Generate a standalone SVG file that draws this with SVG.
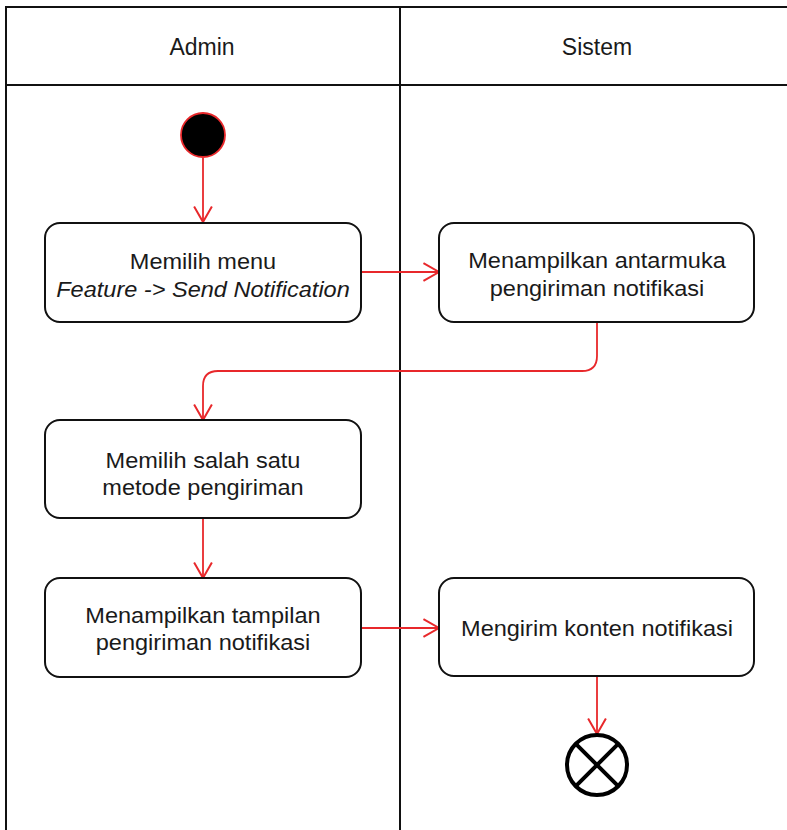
<svg xmlns="http://www.w3.org/2000/svg" width="787" height="830" viewBox="0 0 787 830">
  <style>
    .lane { stroke: #111; stroke-width: 2; fill: none; }
    .act { fill: #fff; stroke: #111; stroke-width: 2; }
    .lbl { font-family: "Liberation Sans", Arial, sans-serif; font-size: 22px; fill: #1a1a1a; text-anchor: middle; }
    .hdr { font-family: "Liberation Sans", Arial, sans-serif; font-size: 23px; fill: #1a1a1a; text-anchor: middle; }
    .flow { stroke: #e8282b; stroke-width: 1.8; fill: none; marker-end: url(#open); }
  </style>
  <defs>
    <marker id="open" markerUnits="userSpaceOnUse" markerWidth="20" markerHeight="20" viewBox="0 0 16 18" refX="15" refY="9" orient="auto">
      <path d="M1,1 L15,9 L1,17" fill="none" stroke="#e8282b" stroke-width="1.8"/>
    </marker>
  </defs>

  <!-- swimlanes -->
  <g id="lanes">
    <path class="lane" d="M6,830 V7 H787 M6,85 H787 M400,7 V830"/>
    <text class="hdr" x="202" y="55">Admin</text>
    <text class="hdr" x="597" y="55">Sistem</text>
  </g>

  <!-- connectors -->
  <g id="connectors">
    <path class="flow" d="M203,158 V222"/>
    <path class="flow" d="M361,272 H439"/>
    <path class="flow" d="M597,322 V356 Q597,371 582,371 H218 Q203,371 203,386 V420"/>
    <path class="flow" d="M203,518 V578"/>
    <path class="flow" d="M361,628 H439"/>
    <path class="flow" d="M597,677 V734"/>
  </g>

  <g id="start">
    <circle cx="203" cy="135" r="22" fill="#000" stroke="#e8282b" stroke-width="1.8"/>
  </g>

  <g id="pilih-menu">
    <rect class="act" x="45" y="223" width="316" height="99" rx="15"/>
    <text class="lbl" transform="matrix(1.07 0 0 1 203 0)" x="0" y="269">Memilih menu</text>
    <text class="lbl" transform="matrix(1.07 0 0 1 203 0)" x="0" y="297" font-style="italic">Feature -&gt; Send Notification</text>
  </g>

  <g id="tampil-antarmuka">
    <rect class="act" x="439" y="223" width="315" height="99" rx="15"/>
    <text class="lbl" transform="matrix(1.07 0 0 1 597 0)" x="0" y="268">Menampilkan antarmuka</text>
    <text class="lbl" transform="matrix(1.07 0 0 1 597 0)" x="0" y="296">pengiriman notifikasi</text>
  </g>

  <g id="pilih-metode">
    <rect class="act" x="45" y="420" width="316" height="98" rx="15"/>
    <text class="lbl" transform="matrix(1.07 0 0 1 203 0)" x="0" y="468">Memilih salah satu</text>
    <text class="lbl" transform="matrix(1.07 0 0 1 203 0)" x="0" y="495">metode pengiriman</text>
  </g>

  <g id="tampil-pengiriman">
    <rect class="act" x="45" y="578" width="316" height="99" rx="15"/>
    <text class="lbl" transform="matrix(1.07 0 0 1 203 0)" x="0" y="623">Menampilkan tampilan</text>
    <text class="lbl" transform="matrix(1.07 0 0 1 203 0)" x="0" y="650">pengiriman notifikasi</text>
  </g>

  <g id="kirim-konten">
    <rect class="act" x="439" y="578" width="315" height="98" rx="15"/>
    <text class="lbl" transform="matrix(1.07 0 0 1 597 0)" x="0" y="636">Mengirim konten notifikasi</text>
  </g>

  <g id="end">
    <circle cx="597" cy="765" r="30" fill="#fff" stroke="#000" stroke-width="4"/>
    <path d="M575.8,743.8 L618.2,786.2 M618.2,743.8 L575.8,786.2" stroke="#000" stroke-width="4"/>
  </g>
</svg>
